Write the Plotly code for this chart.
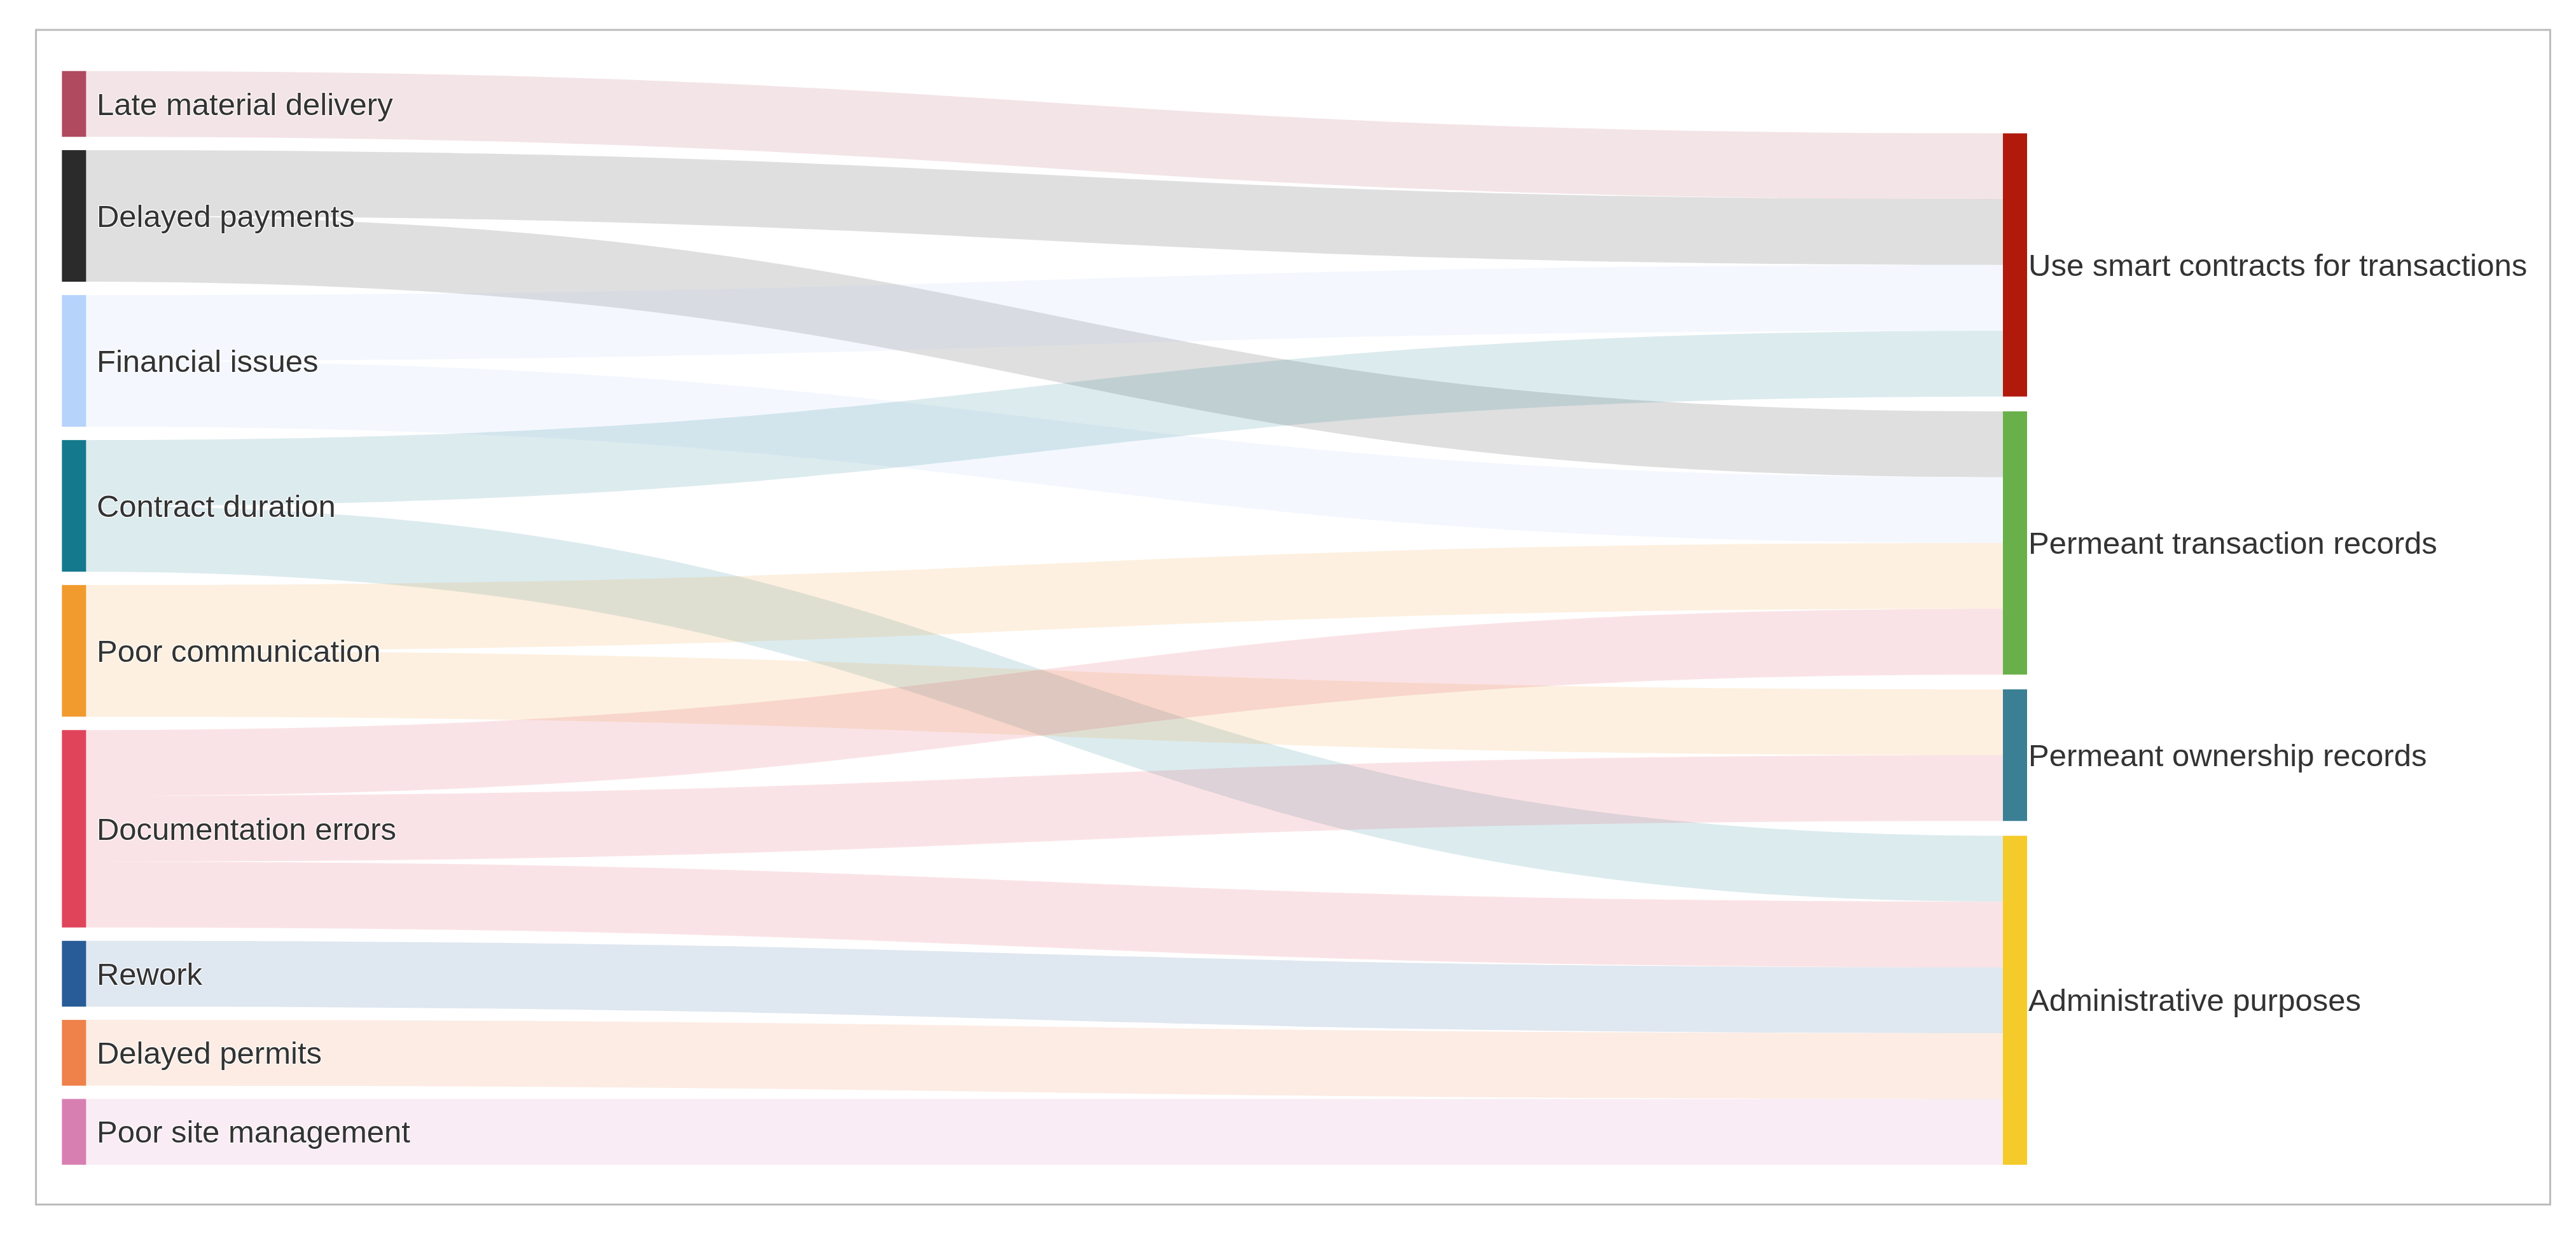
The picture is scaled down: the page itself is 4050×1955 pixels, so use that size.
import plotly.graph_objects as go

sources = ["Late material delivery", "Delayed payments", "Financial issues", "Contract duration",
           "Poor communication", "Documentation errors", "Rework", "Delayed permits",
           "Poor site management"]
targets = ["Use smart contracts for transactions", "Permeant transaction records",
           "Permeant ownership records", "Administrative purposes"]
src_colors = ["#b04a5f", "#2b2b2b", "#b5d3fb", "#14798c", "#f19a2e", "#e0445a",
              "#285c98", "#ee824a", "#d87fb2"]
tgt_colors = ["#b11a0b", "#69b04a", "#3b7f94", "#f5cb2b"]

link_src = [0, 1, 1, 2, 2, 3, 3, 4, 4, 5, 5, 5, 6, 7, 8]
link_tgt = [0, 0, 1, 0, 1, 0, 3, 1, 2, 1, 2, 3, 3, 3, 3]
link_val = [1] * 15


def rgba(h, a):
    h = h.lstrip("#")
    return "rgba(%d,%d,%d,%s)" % (int(h[0:2], 16), int(h[2:4], 16), int(h[4:6], 16), a)


# node positions computed from totals so the order matches the picture
def centers(totals, top, bottom, gap):
    unit = (bottom - top - gap * (len(totals) - 1)) / sum(totals)
    out, y = [], top
    for t in totals:
        out.append(y + t * unit / 2)
        y += t * unit + gap
    return out

src_tot = [link_src.count(i) for i in range(len(sources))]
tgt_tot = [link_tgt.count(i) for i in range(len(targets))]
tgt_y = centers(tgt_tot, 0.057, 1.0, 0.0135)
ys = centers(src_tot, 0.0, 1.0, 0.012) + tgt_y
xs = [0.001] * len(sources) + [0.999] * len(targets)

dom_x = [0.026, 0.781]
dom_y = [0.067, 0.947]
font = dict(family="Liberation Sans, Arial", size=49, color="#333")

fig = go.Figure(go.Sankey(
    arrangement="fixed",
    domain=dict(x=dom_x, y=dom_y),
    node=dict(label=[" " + s for s in sources] + [""] * len(targets),
              color=src_colors + tgt_colors,
              x=xs, y=ys, pad=21, thickness=38, line=dict(width=0)),
    link=dict(source=link_src, target=[t + len(sources) for t in link_tgt], value=link_val,
              color=[rgba(src_colors[s], 0.15) for s in link_src]),
    textfont=font,
))
# target labels on the right side of the nodes
for name, y in zip(targets, tgt_y):
    fig.add_annotation(text=name, xref="paper", yref="paper", x=dom_x[1] + 0.004,
                       y=dom_y[1] - y * (dom_y[1] - dom_y[0]), xanchor="left",
                       yanchor="middle", showarrow=False, font=font)
fig.update_layout(width=4050, height=1955, margin=dict(l=0, r=0, t=0, b=0),
                  paper_bgcolor="white")
fig.add_shape(type="rect", xref="paper", yref="paper", x0=0.012, x1=0.988, y0=0.035, y1=0.98,
              line=dict(color="#bbbbbb", width=3))
fig.write_html("out.html")
